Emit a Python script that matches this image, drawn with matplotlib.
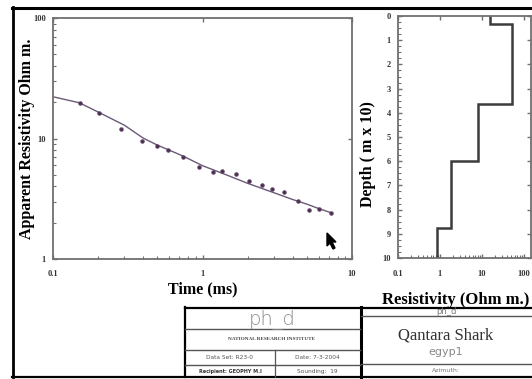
import numpy as np
import matplotlib.pyplot as plt
from matplotlib.ticker import LogLocator, FixedLocator, MultipleLocator
from matplotlib.patches import Polygon
from matplotlib.lines import Line2D

# measured apparent resistivity (time in ms, rho in ohm m)
time_obs = [0.152, 0.203, 0.285, 0.392, 0.494, 0.59, 0.744, 0.953, 1.18, 1.36,
            1.67, 2.06, 2.49, 2.90, 3.53, 4.33, 5.16, 6.04, 7.24]
rho_obs = [19.8, 16.4, 12.1, 9.5, 8.7, 8.1, 7.06, 5.83, 5.3, 5.4,
           5.07, 4.44, 4.09, 3.83, 3.62, 3.01, 2.55, 2.60, 2.42]

# fitted model response
time_fit = [0.1, 0.15, 0.2, 0.3, 0.4, 0.5, 0.6, 0.75, 1.0, 1.5, 2.0, 3.0, 4.0, 5.0, 6.0, 7.24]
rho_fit = [22.2, 19.8, 16.6, 12.9, 10.1, 8.8, 8.0, 7.1, 5.95, 4.9, 4.25, 3.55, 3.12, 2.85, 2.62, 2.42]

# layered model: resistivity of each layer and depth of the layer bottoms (m x 10)
layer_rho = [15.5, 51.0, 7.9, 1.8, 0.86]
layer_bottom = [0.33, 3.65, 5.98, 8.77, 10.0]

depth_ticks = list(range(0, 11))

W, H = 532, 379
fig = plt.figure(figsize=(W / 100, H / 100), dpi=100)
fig.patch.set_facecolor("white")

SERIF = ["Liberation Serif", "DejaVu Serif"]
SPINE = "#707070"


def px_box(x0, y0, x1, y1):
    return [x0 / W, 1 - y1 / H, (x1 - x0) / W, (y1 - y0) / H]


def style_axes(ax):
    for s in ax.spines.values():
        s.set_color(SPINE)
        s.set_linewidth(1.3)
    ax.tick_params(which="major", direction="in", length=3, width=1, color=SPINE,
                   top=True, right=True, labelsize=6, pad=5)
    ax.tick_params(which="minor", direction="in", length=2, width=0.8, color=SPINE,
                   top=False, right=False)
    for lab in ax.get_xticklabels() + ax.get_yticklabels():
        lab.set_fontfamily(SERIF)
        lab.set_fontweight("bold")
        lab.set_color("#333333")


# ---- left panel: apparent resistivity curve ----
ax1 = fig.add_axes(px_box(53, 18, 352, 259))
ax1.set_xscale("log")
ax1.set_yscale("log")
ax1.set_xlim(0.1, 10)
ax1.set_ylim(1, 100)
ax1.plot(time_fit, rho_fit, color="#6a5a78", lw=1.0)
ax1.plot(time_obs, rho_obs, "o", ms=2.2, color="#3a3040", mec="#5a3a60")
ax1.xaxis.set_major_locator(FixedLocator([0.1, 1, 10]))
ax1.yaxis.set_major_locator(FixedLocator([1, 10, 100]))
ax1.xaxis.set_minor_locator(LogLocator(subs=np.arange(2, 10)))
ax1.yaxis.set_minor_locator(LogLocator(subs=np.arange(2, 10)))
ax1.set_xticklabels(["0.1", "1", "10"])
ax1.set_yticklabels(["1", "10", "100"])
style_axes(ax1)
ax1.tick_params(axis="x", pad=8)
ax1.set_xlabel("Time (ms)", fontfamily=SERIF, fontweight="bold", fontsize=11.5)
ax1.xaxis.set_label_coords(0.5, -0.092)
ax1.set_ylabel("Apparent Resistivity Ohm m.", fontfamily=SERIF, fontweight="bold",
               fontsize=11.5)
ax1.yaxis.set_label_coords(-0.088, 0.5)
ax1.yaxis.label.set_va("center")

# ---- right panel: layered model ----
ax2 = fig.add_axes(px_box(398, 16, 531, 258))
ax2.set_xscale("log")
ax2.set_xlim(0.1, 148)
ax2.set_ylim(10, 0)
tops = [0.0] + layer_bottom[:-1]
xs, ys = [], []
for r, t, b in zip(layer_rho, tops, layer_bottom):
    xs += [r, r]
    ys += [t, b]
ax2.plot(xs, ys, color="#3c3c3c", lw=1.8, solid_joinstyle="miter")
ax2.xaxis.set_major_locator(FixedLocator([0.1, 1, 10, 100]))
ax2.set_xticklabels(["0.1", "1", "10", "100"])
ax2.xaxis.set_minor_locator(LogLocator(subs=np.arange(2, 10)))
ax2.yaxis.set_major_locator(FixedLocator(depth_ticks))
ax2.set_yticklabels([str(d) for d in depth_ticks])
ax2.yaxis.set_minor_locator(MultipleLocator(0.25))
style_axes(ax2)
ax2.tick_params(axis="x", pad=9)
ax2.set_xlabel("Resistivity (Ohm m.)", fontfamily=SERIF, fontweight="bold", fontsize=12)
ax2.xaxis.set_label_coords(0.43, -0.14)
ax2.set_ylabel("Depth ( m x 10)", fontfamily=SERIF, fontweight="bold", fontsize=11.5)
ax2.yaxis.set_label_coords(-0.226, 0.43)
ax2.yaxis.label.set_va("center")

# ---- outer frame and title block ----
frame = fig.add_axes([0, 0, 1, 1], zorder=5)
frame.set_xlim(0, W)
frame.set_ylim(H, 0)
frame.axis("off")
frame.patch.set_alpha(0)


def hline(y, x0, x1, lw=1.0, c="#555555"):
    frame.add_line(Line2D([x0, x1], [y, y], lw=lw, color=c))


def vline(x, y0, y1, lw=1.0, c="#555555"):
    frame.add_line(Line2D([x, x], [y0, y1], lw=lw, color=c))


hline(7.5, 12, 532, lw=2.2, c="black")
vline(12.5, 7, 377, lw=2.0, c="black")
hline(377, 12, 532, lw=1.6, c="black")

hline(307.5, 185, 532, lw=1.6, c="black")
vline(185, 307, 377, lw=1.6, c="black")
vline(360.5, 307, 377, lw=2.2, c="black")
hline(328.5, 185, 360, lw=1.0)
hline(350, 185, 360, lw=1.0)
hline(365, 185, 360, lw=1.0)
vline(274.5, 350, 377, lw=0.9)
hline(316, 361, 532, lw=1.0)
hline(363.5, 361, 532, lw=1.0)

frame.text(272, 319, "ph_d", ha="center", va="center", fontsize=14,
           color="#8a8a8a", family="DejaVu Sans", fontweight="light")
frame.text(272, 339.5, "NATIONAL RESEARCH INSTITUTE", ha="center", va="center",
           fontsize=3.8, color="#444444", family=SERIF, fontweight="bold")
frame.text(230, 357.5, "Data Set: R23-0", ha="center", va="center", fontsize=4.2, color="#555555")
frame.text(317, 357.5, "Date: 7-3-2004", ha="center", va="center", fontsize=4.2, color="#555555")
frame.text(230, 371, "Recipient: GEOPHY M.I", ha="center", va="center", fontsize=3.5,
           color="#333333", fontweight="bold")
frame.text(317, 371, "Sounding:  19", ha="center", va="center", fontsize=4.2, color="#555555")
frame.text(446, 311.5, "ph_d", ha="center", va="center", fontsize=6, color="#777777")
frame.text(446, 336, "Qantara Shark", ha="center", va="center", fontsize=12,
           color="#333333", family=SERIF)
frame.text(446, 352, "egyp1", ha="center", va="center", fontsize=8, color="#888888")
frame.text(446, 371, "Azimuth:", ha="center", va="center", fontsize=4.5, color="#777777")

# mouse cursor from the screenshot
frame.add_patch(Polygon([[327, 233], [327, 246], [330, 243], [333, 249], [335, 248],
                         [332, 242], [336, 242]], closed=True, color="black"))

fig.savefig("out.png", dpi=100, facecolor="white")
